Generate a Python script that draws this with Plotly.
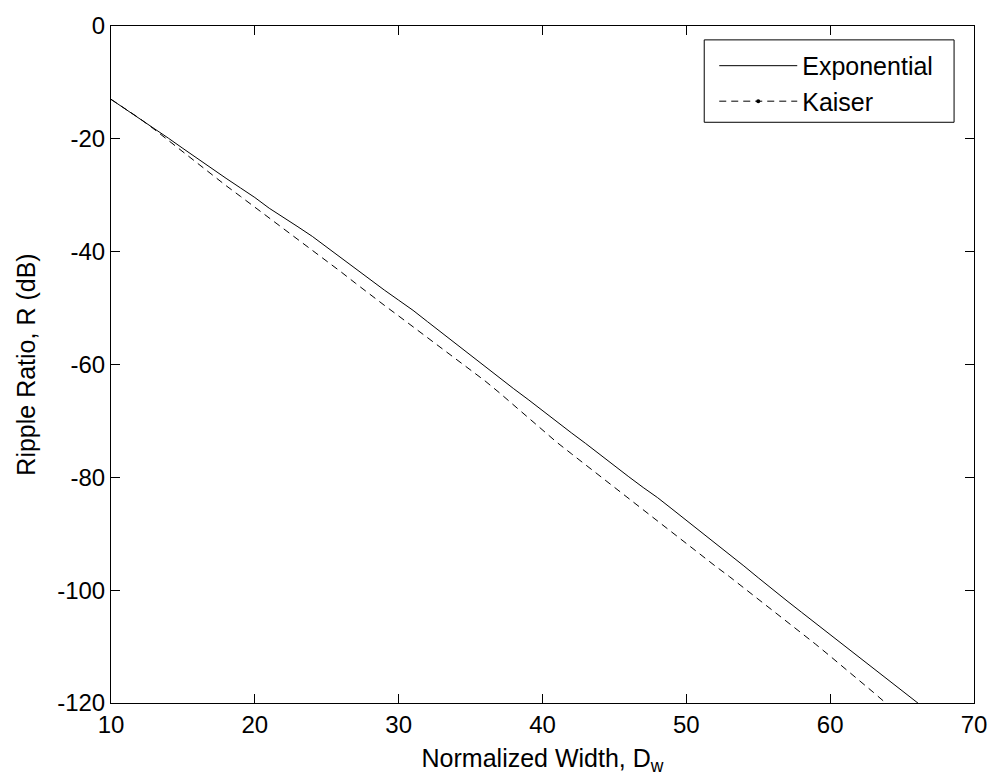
import plotly.graph_objects as go

# Normalized width D_w (sample points)
width_exp = list(range(10, 68))
ripple_exp = [
    -13.0, -14.7, -16.4, -18.1, -19.9, -21.7, -23.5, -25.3, -27.0, -28.7,
    -30.4, -32.3, -33.9, -35.6, -37.3, -39.2, -41.2, -43.1, -44.9, -46.8,
    -48.6, -50.4, -52.4, -54.4, -56.4, -58.4, -60.4, -62.3, -64.3, -66.2,
    -68.2, -70.1, -72.1, -74.0, -76.0, -77.9, -79.9, -81.8, -83.6, -85.6,
    -87.6, -89.6, -91.6, -93.6, -95.7, -97.8, -99.9, -101.9, -103.9, -105.9,
    -107.8, -109.8, -111.8, -113.8, -115.8, -117.8, -119.8, -121.8,
]

width_kai = list(range(10, 66))
ripple_kai = [
    -13.0, -14.7, -16.4, -18.3, -20.3, -22.3, -24.4, -26.3, -28.3, -30.2,
    -32.1, -34.0, -35.9, -37.8, -39.7, -41.6, -43.6, -45.6, -47.6, -49.5,
    -51.4, -53.3, -55.2, -57.1, -59.0, -60.9, -62.9, -65.0, -67.2, -69.4,
    -71.6, -73.8, -75.8, -77.8, -79.8, -81.8, -83.8, -85.8, -87.8, -89.8,
    -91.7, -93.7, -95.7, -97.6, -99.6, -101.5, -103.5, -105.5, -107.5, -109.6,
    -111.7, -113.8, -115.9, -118.1, -120.3, -122.5,
]

x_ticks = [10, 20, 30, 40, 50, 60, 70]
x_ticklabels = ["10", "20", "30", "40", "50", "60", "70"]
y_ticks = [0, -20, -40, -60, -80, -100, -120]
y_ticklabels = ["0", "-20", "-40", "-60", "-80", "-100", "-120"]

FONT = "Arial, Liberation Sans, Helvetica, sans-serif"

fig = go.Figure()

fig.add_trace(go.Scatter(
    x=width_exp, y=ripple_exp, mode="lines", name="Exponential",
    line=dict(color="black", width=1),
))
fig.add_trace(go.Scatter(
    x=width_kai, y=ripple_kai, mode="lines", name="Kaiser",
    legendgroup="kaiser", showlegend=False,
    line=dict(color="black", width=1, dash="7px,5px"),
))
# legend entry for the Kaiser curve (dashed line with a point marker)
fig.add_trace(go.Scatter(
    x=[None], y=[None], mode="lines+markers", name="Kaiser",
    legendgroup="kaiser",
    line=dict(color="black", width=1, dash="7px,5px"),
    marker=dict(color="black", size=4, symbol="circle"),
))

axis_common = dict(
    showline=True, linecolor="black", linewidth=1, mirror="ticks",
    ticks="inside", ticklen=9, tickwidth=1, tickcolor="black",
    showgrid=False, zeroline=False,
    tickfont=dict(family=FONT, size=24, color="black"),
)

# frame drawn behind the legend entries
legend_frame = dict(
    type="rect", xref="paper", yref="paper",
    x0=0.6874, x1=0.9769, y0=0.8578, y1=0.9795,
    line=dict(color="black", width=1), fillcolor="white", layer="above",
)

fig.update_layout(
    width=999, height=781,
    margin=dict(l=111, r=21, t=21, b=78, pad=0),
    paper_bgcolor="white", plot_bgcolor="white",
    font=dict(family=FONT, size=24, color="black"),
    showlegend=True,
    shapes=[legend_frame],
    legend=dict(
        x=0.699, y=0.975, xanchor="left", yanchor="top",
        bgcolor="rgba(0,0,0,0)", borderwidth=0,
        font=dict(family=FONT, size=25, color="black"),
        itemwidth=78, tracegroupgap=0,
    ),
    xaxis=dict(
        range=[10, 70], tickvals=x_ticks, ticktext=x_ticklabels,
        title=dict(text="Normalized Width, D<sub>w</sub>", standoff=12,
                   font=dict(family=FONT, size=25, color="black")),
        **axis_common,
    ),
    yaxis=dict(
        range=[-120, 0], tickvals=y_ticks, ticktext=y_ticklabels,
        title=dict(text="Ripple Ratio, R (dB)", standoff=14,
                   font=dict(family=FONT, size=25, color="black")),
        **axis_common,
    ),
)

fig.write_html("out.html")
